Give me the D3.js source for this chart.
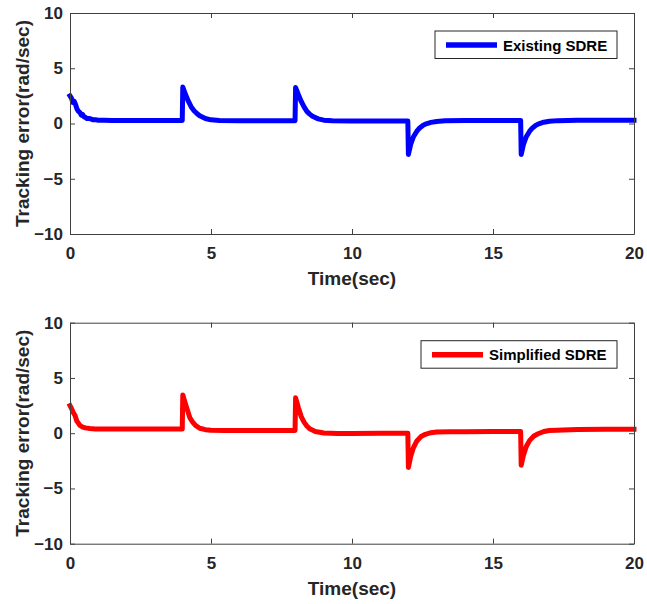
<!DOCTYPE html>
<meta charset="utf-8">
<head>
<script src="https://cdn.jsdelivr.net/npm/d3@7/dist/d3.min.js"></script>
<style>
body { margin: 0; background: #fff; }
text { font-family: "Liberation Sans", Arial, sans-serif; font-weight: bold; fill: #262626; }
.tick text { font-size: 17px; }
.lab { font-size: 19px; }
.leg { font-size: 15px; fill: #000; }
</style>
</head>
<body>
<script>

// data
var xTicks = [0, 5, 10, 15, 20];
var yTicks = [-10, -5, 0, 5, 10];

var timeExisting = [0, 0.05, 0.1, 0.15, 0.2, 0.25, 0.3, 0.35, 0.4, 0.45, 0.5, 0.55, 0.6, 0.7, 0.8, 0.9, 1.0, 1.2, 1.5, 2, 3, 3.98,
  4.0, 4.1, 4.2, 4.3, 4.4, 4.5, 4.6, 4.8, 5.0, 5.3, 6, 7, 7.98,
  8.0, 8.1, 8.2, 8.3, 8.4, 8.5, 8.6, 8.8, 9.0, 9.3, 10, 11, 11.98,
  12.0, 12.08, 12.18, 12.3, 12.4, 12.5, 12.6, 12.8, 13.0, 13.3, 14, 15, 15.98,
  16.0, 16.08, 16.18, 16.3, 16.4, 16.5, 16.6, 16.8, 17.0, 17.3, 18, 19, 20];
var errExisting = [2.5, 2.3, 1.9, 2.0, 1.7, 1.3, 1.1, 1.0, 0.75, 0.8, 0.6, 0.55, 0.45, 0.45, 0.35, 0.35, 0.3, 0.3, 0.28, 0.27, 0.27, 0.27,
  3.3, 2.6, 2.0, 1.5, 1.15, 0.9, 0.7, 0.45, 0.33, 0.27, 0.25, 0.25, 0.25,
  3.25, 2.6, 2.0, 1.5, 1.1, 0.85, 0.65, 0.42, 0.3, 0.24, 0.22, 0.22, 0.22,
  -2.8, -1.9, -1.2, -0.7, -0.4, -0.2, -0.05, 0.1, 0.18, 0.24, 0.27, 0.28, 0.28,
  -2.8, -1.9, -1.2, -0.7, -0.4, -0.2, -0.05, 0.12, 0.2, 0.26, 0.3, 0.3, 0.3];

var timeSimplified = [0, 0.06, 0.12, 0.18, 0.24, 0.3, 0.35, 0.45, 0.55, 0.7, 0.9, 1.2, 2, 3, 3.98,
  4.0, 4.1, 4.2, 4.25, 4.35, 4.45, 4.6, 4.8, 5.0, 5.5, 6, 7, 7.98,
  8.0, 8.1, 8.2, 8.3, 8.4, 8.5, 8.7, 9.0, 9.5, 10, 11, 11.98,
  12.0, 12.08, 12.18, 12.3, 12.45, 12.6, 12.8, 13.0, 13.5, 14, 15, 15.98,
  16.0, 16.08, 16.18, 16.3, 16.45, 16.6, 16.8, 17.0, 17.5, 18, 19, 20];
var errSimplified = [2.5, 2.2, 1.85, 1.6, 1.1, 0.9, 0.7, 0.55, 0.48, 0.42, 0.38, 0.37, 0.37, 0.37, 0.37,
  3.45, 2.6, 1.8, 1.4, 1.0, 0.7, 0.45, 0.32, 0.27, 0.25, 0.25, 0.25, 0.25,
  3.2, 2.3, 1.5, 1.0, 0.65, 0.4, 0.15, 0.02, -0.03, -0.03, 0.0, 0.0,
  -3.1, -2.1, -1.3, -0.7, -0.3, -0.1, 0.05, 0.1, 0.13, 0.14, 0.15, 0.15,
  -2.9, -2.0, -1.2, -0.65, -0.25, -0.05, 0.15, 0.25, 0.3, 0.33, 0.35, 0.35];

var panels = [
  {t: timeExisting, v: errExisting, color: "#0000ff", name: "Existing SDRE", top: 13, legX: 435, legW: 182},
  {t: timeSimplified, v: errSimplified, color: "#ff0000", name: "Simplified SDRE", top: 322.7, legX: 421, legW: 196}
];

var width = 647, height = 604;
var left = 70, right = 634, ph = 221;

var svg = d3.select("body").append("svg")
    .attr("width", width)
    .attr("height", height);

var x = d3.scaleLinear().domain([0, 20]).range([left, right]);

panels.forEach(function(p) {
  var y = d3.scaleLinear().domain([-10, 10]).range([p.top + ph, p.top]);
  var g = svg.append("g");

  var line = d3.line().x(function(d, i) { return x(p.t[i]); }).y(function(d) { return y(d); });
  g.append("path")
    .datum(p.v)
    .attr("fill", "none")
    .attr("stroke", p.color)
    .attr("stroke-width", 5)
    .attr("stroke-linejoin", "round")
    .attr("stroke-linecap", "square")
    .attr("d", line);

  // axes, ticks pointing inward, mirrored on top and right
  var ax = g.append("g").attr("transform", "translate(0," + (p.top + ph) + ")")
    .call(d3.axisBottom(x).tickValues(xTicks).tickSizeInner(-5).tickSizeOuter(0).tickPadding(13));
  var axT = g.append("g").attr("transform", "translate(0," + p.top + ")")
    .call(d3.axisTop(x).tickValues(xTicks).tickSizeInner(-5).tickSizeOuter(0).tickFormat(""));
  var ay = g.append("g").attr("transform", "translate(" + left + ",0)")
    .call(d3.axisLeft(y).tickValues(yTicks).tickSizeInner(-5).tickSizeOuter(0).tickPadding(7));
  var ayR = g.append("g").attr("transform", "translate(" + right + ",0)")
    .call(d3.axisRight(y).tickValues(yTicks).tickSizeInner(-5).tickSizeOuter(0).tickFormat(""));
  [ax, axT, ay, ayR].forEach(function(a) {
    a.selectAll("line").attr("stroke", "#404040");
    a.select(".domain").attr("stroke", "#404040");
    a.selectAll("text").attr("fill", "#262626").attr("font-family", null).attr("font-size", null);
  });

  g.append("text").attr("class", "lab")
    .attr("x", (left + right) / 2).attr("y", p.top + ph + 51)
    .attr("text-anchor", "middle")
    .text("Time(sec)");

  g.append("text").attr("class", "lab")
    .attr("transform", "translate(29," + (p.top + ph / 2) + ") rotate(-90)")
    .attr("text-anchor", "middle")
    .text("Tracking error(rad/sec)");

  // legend
  var ly = p.top + 18;
  g.append("rect")
    .attr("x", p.legX).attr("y", ly).attr("width", p.legW).attr("height", 27.5)
    .attr("fill", "#fff").attr("stroke", "#262626").attr("stroke-width", 1);
  g.append("line")
    .attr("x1", p.legX + 11).attr("x2", p.legX + 62)
    .attr("y1", ly + 14).attr("y2", ly + 14)
    .attr("stroke", p.color).attr("stroke-width", 5.5);
  g.append("text").attr("class", "leg")
    .attr("x", p.legX + 68).attr("y", ly + 19.5)
    .text(p.name);
});

</script>
</body>
